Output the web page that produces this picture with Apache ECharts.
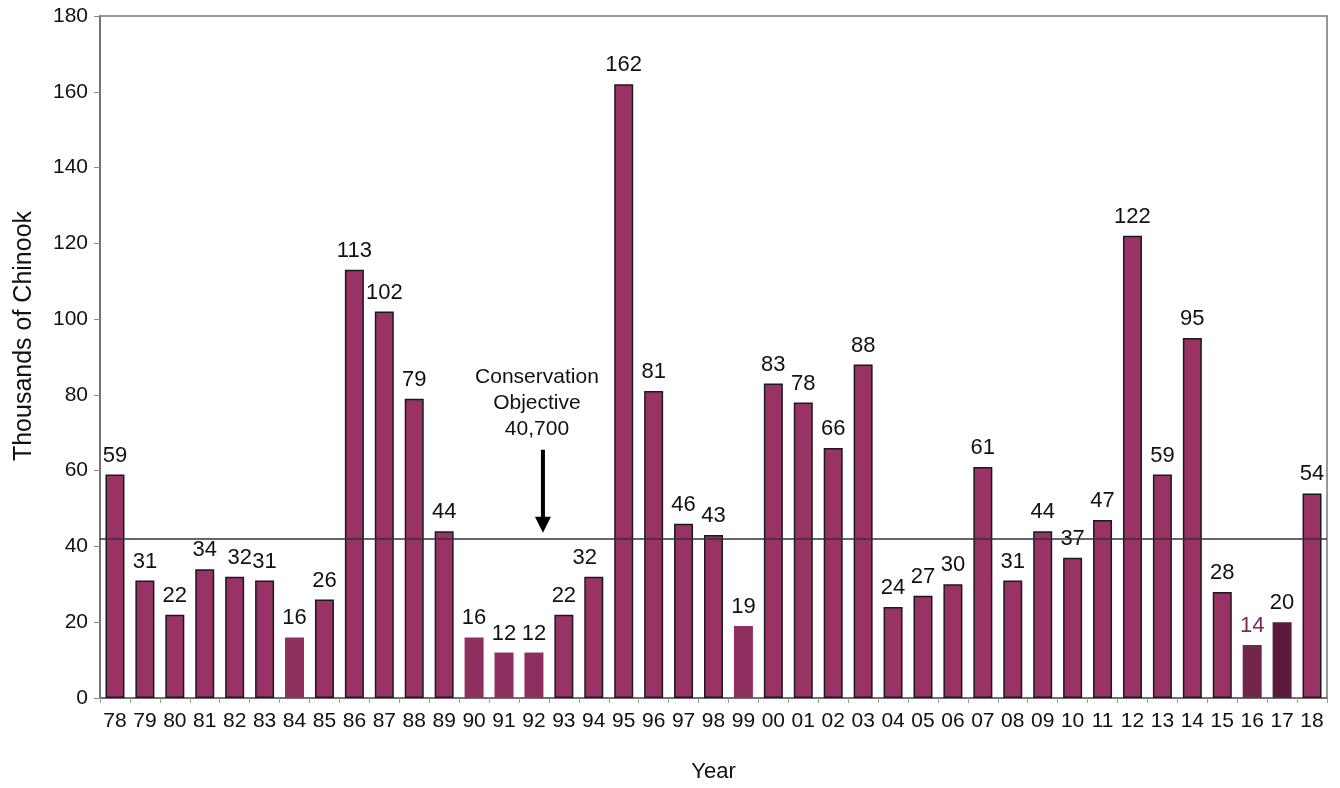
<!DOCTYPE html>
<html><head><meta charset="utf-8">
<script src="https://cdn.jsdelivr.net/npm/echarts@6/dist/echarts.min.js"></script>
<style>html,body{margin:0;padding:0;background:#fff}#c{width:1340px;height:788px}</style>
</head><body><div id="c"></div>
<script>
const years = ['78','79','80','81','82','83','84','85','86','87','88','89','90','91','92','93','94','95','96','97','98','99','00','01','02','03','04','05','06','07','08','09','10','11','12','13','14','15','16','17','18'];
const chinook = [59,31,22,34,32,31,16,26,113,102,79,44,16,12,12,22,32,162,81,46,43,19,83,78,66,88,24,27,30,61,31,44,37,47,122,59,95,28,14,20,54];
const yTicks = [0,20,40,60,80,100,120,140,160,180];
const objective = 42;
const objectiveText = ['Conservation','Objective','40,700'];

const plainYears = ['84','90','91','92','99'];
const specialColors = {'16':'#722649','17':'#5c1b3c'};
const font = 'Liberation Sans, Arial, sans-serif';

const data = chinook.map((v,i)=>{
  const y = years[i];
  let item = {value:v, itemStyle:{color:'#993366', borderColor:'#1a1a1a', borderWidth:1.5}};
  if (plainYears.includes(y)) item.itemStyle = {color:'#8e2f5f', borderWidth:0};
  if (specialColors[y]) item.itemStyle = {color:specialColors[y], borderWidth:0};
  if (y==='16') item.label = {color:'#7b2a55'};
  if (y==='82') item.label = {offset:[5,0]};
  if (y==='94') item.label = {offset:[-9,0]};
  return item;
});

const chart = echarts.init(document.getElementById('c'));
chart.setOption({
  animation:false,
  grid:{left:100,right:13,top:16,bottom:88,show:true,borderColor:'#777',borderWidth:1.5},
  xAxis:{type:'category',data:years,
    axisLine:{lineStyle:{color:'#666',width:1.5}},
    axisTick:{show:true,alignWithLabel:false,length:5,lineStyle:{color:'#999'}},
    axisLabel:{color:'#111',fontSize:21,fontFamily:font,margin:13,interval:0},
    name:'Year',nameLocation:'middle',nameGap:63,
    nameTextStyle:{color:'#111',fontSize:22,fontFamily:font}},
  yAxis:{type:'value',min:0,max:180,interval:20,
    axisLine:{show:true,lineStyle:{color:'#666',width:1.5}},
    axisTick:{show:true,length:6,lineStyle:{color:'#888'}},
    splitLine:{show:false},
    axisLabel:{color:'#111',fontSize:21,fontFamily:font,margin:12,
      formatter:v=>yTicks.includes(v)?String(v):''},
    name:'Thousands of Chinook',nameLocation:'middle',nameGap:63,
    nameTextStyle:{color:'#111',fontSize:25,fontFamily:font,padding:[0,0,0,42]}},
  series:[{type:'bar',data:data,barWidth:19,
    label:{show:true,position:'top',distance:8,color:'#111',fontSize:22,fontFamily:font},
    markLine:{silent:true,symbol:'none',label:{show:false},
      lineStyle:{color:'#333',width:1.5,type:'solid'},
      data:[{yAxis:objective}]}
  }]
});

// annotation: text and arrow placed relative to category '92'
const p = chart.convertToPixel({xAxisIndex:0,yAxisIndex:0},['92',objective]);
const tx = p[0] + 3, ax = p[0] + 9;
const yArrowTop = chart.convertToPixel({yAxisIndex:0}, 65);
chart.setOption({graphic:[
  {type:'text',x:tx,y:yArrowTop-88,style:{text:objectiveText.join('\n'),font:'21px '+font,fill:'#111',textAlign:'center',textVerticalAlign:'top',lineHeight:26}},
  {type:'line',shape:{x1:ax,y1:yArrowTop-2,x2:ax,y2:p[1]-20},style:{stroke:'#000',lineWidth:4}},
  {type:'polygon',shape:{points:[[ax-8,p[1]-22],[ax+8,p[1]-22],[ax,p[1]-6]]},style:{fill:'#000'}}
]});
</script></body></html>
